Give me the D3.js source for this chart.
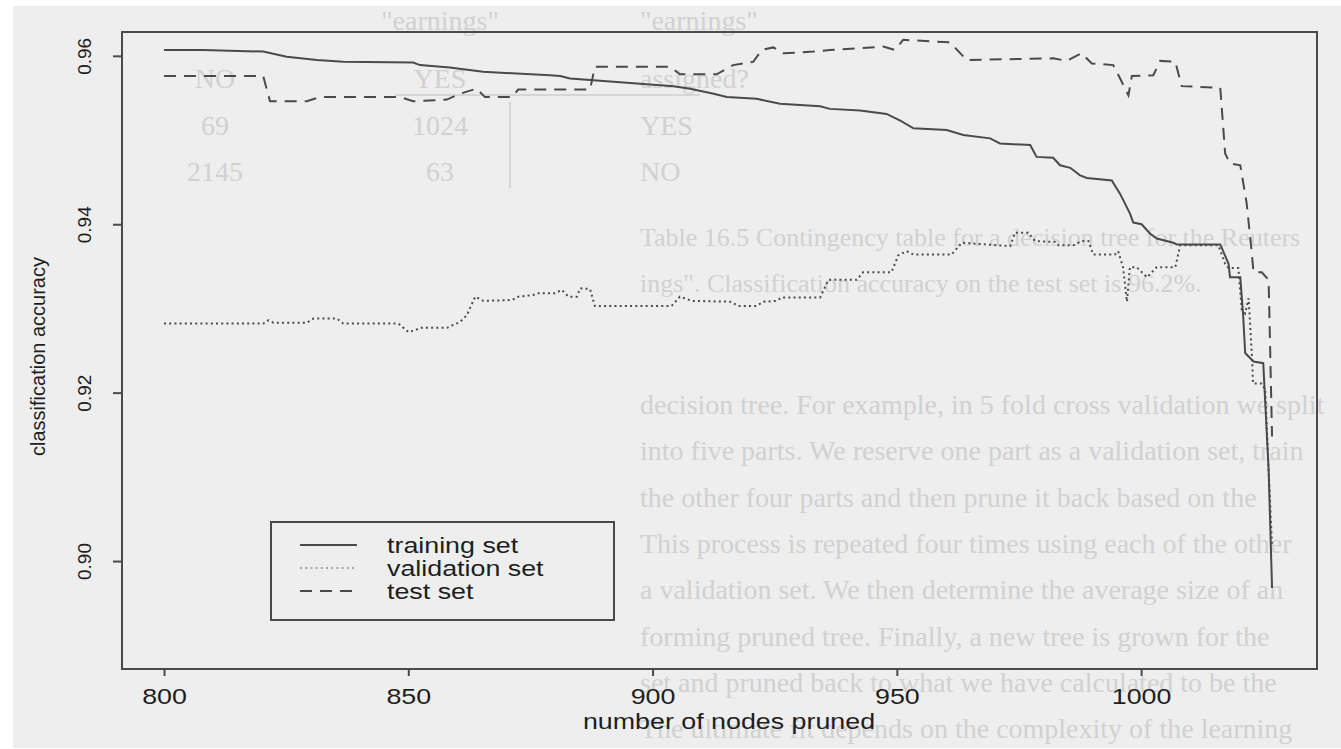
<!DOCTYPE html>
<html>
<head>
<meta charset="utf-8">
<script src="https://cdn.jsdelivr.net/npm/d3@7"></script>
<style>
body { margin: 0; background: #fff; }
svg { display: block; }
</style>
</head>
<body>
<svg id="chart" width="1341" height="749"></svg>
<script>
var xTicks = [800, 850, 900, 950, 1000];
var yTicks = [0.90, 0.92, 0.94, 0.96];
var seriesNames = ['training set', 'validation set', 'test set'];

// [nodes pruned, accuracy]
var trainingSet = [
    [800, 0.9607], [808, 0.9607], [820.3, 0.9605], [825.1, 0.9599], [831.3, 0.9595],
    [836.7, 0.9593], [851, 0.9592], [852.4, 0.9589], [858.5, 0.9586], [865.3, 0.9581],
    [872.2, 0.9579], [879, 0.9577], [881.1, 0.9576], [883.1, 0.9573], [887.9, 0.9571],
    [904.3, 0.9564], [907.7, 0.9561], [912.5, 0.9555], [915.2, 0.9551], [921.3, 0.9549],
    [926.1, 0.9543], [934.3, 0.9540], [936.3, 0.9537], [942.5, 0.9535], [947.9, 0.9531],
    [950.7, 0.9523], [953.4, 0.9514], [960.2, 0.9512], [963.6, 0.9506], [969.1, 0.9502],
    [971.1, 0.9496], [977.3, 0.9494], [978.6, 0.9480], [982, 0.9479], [983.4, 0.9470],
    [985.5, 0.9467], [987.5, 0.9458], [988.9, 0.9455], [994, 0.9452], [995.7, 0.9436],
    [997.7, 0.9413], [998.4, 0.9402], [1000.1, 0.9400], [1001.8, 0.9389], [1003.2, 0.9383],
    [1006.6, 0.9378], [1007.3, 0.9376], [1016.2, 0.9376], [1017.9, 0.9353], [1018.2, 0.9337],
    [1020.3, 0.9337], [1020.9, 0.9290], [1021.3, 0.9247], [1023, 0.9237], [1025, 0.9235],
    [1026.1, 0.9108], [1026.8, 0.8968]
];

var validationSet = [
    [800, 0.9282], [820.3, 0.9282], [821.4, 0.9286], [822.4, 0.9283], [829.2, 0.9283],
    [830.6, 0.9288], [835.4, 0.9288], [836.7, 0.9282], [848, 0.9282], [850, 0.9272],
    [851.4, 0.9274], [852.4, 0.9277], [857.9, 0.9277], [860.6, 0.9284], [862, 0.9292],
    [862.6, 0.9300], [863.7, 0.9314], [865.4, 0.9309], [871.2, 0.9310], [872.5, 0.9314],
    [875.6, 0.9316], [876.3, 0.9318], [880, 0.9318], [881.4, 0.9322], [882.8, 0.9314],
    [884.5, 0.9314], [885.2, 0.9324], [887.2, 0.9323], [888.2, 0.9303], [903.9, 0.9303],
    [905.6, 0.9314], [908, 0.9309], [915.9, 0.9308], [917.6, 0.9303], [921.3, 0.9303],
    [922.7, 0.9308], [925.4, 0.9309], [926.4, 0.9313], [934.3, 0.9313], [936, 0.9334],
    [941.8, 0.9334], [943.1, 0.9343], [948.9, 0.9343], [950.3, 0.9363], [952, 0.9368],
    [953.4, 0.9364], [961.2, 0.9364], [963.3, 0.9378], [973.2, 0.9374], [974.2, 0.9390],
    [976.9, 0.9390], [978.3, 0.9380], [982.4, 0.9379], [983.1, 0.9375], [986.1, 0.9375],
    [987.8, 0.9380], [989.2, 0.9380], [990.2, 0.9364], [994.6, 0.9364], [995.3, 0.9368],
    [996.3, 0.9349], [997.1, 0.9308], [997.7, 0.9349], [999.1, 0.9349], [1001.2, 0.9337],
    [1003.2, 0.9349], [1007, 0.9349], [1008, 0.9375], [1015.8, 0.9375], [1017.2, 0.9353],
    [1017.9, 0.9348], [1019.9, 0.9348], [1020.6, 0.9298], [1021.3, 0.9294], [1022, 0.9312],
    [1022.7, 0.9242], [1022.9, 0.9211], [1024.7, 0.9211], [1025.4, 0.9203], [1026.1, 0.9108],
    [1026.8, 0.9017]
];

var testSet = [
    [800, 0.9576], [820.3, 0.9576], [821.7, 0.9546], [829.2, 0.9546], [831.9, 0.9551],
    [848.3, 0.9551], [851, 0.9546], [857.9, 0.9548], [860.6, 0.9555], [864, 0.9561],
    [865.7, 0.9551], [871.2, 0.9551], [872.5, 0.9560], [887.2, 0.9560], [888.2, 0.9587],
    [903.6, 0.9587], [905.6, 0.9578], [913.1, 0.9578], [916.5, 0.9589], [920.6, 0.9593],
    [922.4, 0.9607], [924.7, 0.9610], [926.8, 0.9603], [932.9, 0.9605], [936.3, 0.9607],
    [942.5, 0.9609], [947.2, 0.9611], [949.6, 0.9607], [951.3, 0.9619], [960.9, 0.9616],
    [964.3, 0.9595], [982, 0.9597], [984.8, 0.9594], [987.8, 0.9603], [989.9, 0.9591],
    [994.3, 0.9589], [995.7, 0.9573], [997.4, 0.9553], [998.1, 0.9576], [1002.5, 0.9577],
    [1003.9, 0.9594], [1007, 0.9593], [1008.3, 0.9564], [1016.2, 0.9562], [1017.2, 0.9484],
    [1018.2, 0.9472], [1020.3, 0.9470], [1021.6, 0.9425], [1022.6, 0.9369], [1023, 0.9343],
    [1024.7, 0.9343], [1026.1, 0.9334], [1026.8, 0.9148]
];

// faint show-through text from the other side of the scanned page
var ghostTable = [
    ['', '"earnings"', '"earnings"'],
    ['NO', 'YES', 'assigned?'],
    ['69', '1024', 'YES'],
    ['2145', '63', 'NO']
];
var ghostCaption = [
    'Table 16.5   Contingency table for a decision tree for the Reuters category',
    'ings". Classification accuracy on the test set is 96.2%.'
];
var ghostBody = [
    'decision tree.  For example, in 5 fold cross validation we split the',
    'into five parts. We reserve one part as a validation set, train on',
    'the other four parts and then prune it back based on the held-out',
    'This process is repeated four times using each of the other four parts as',
    'a validation set. We then determine the average size of an optimal',
    'forming pruned tree. Finally, a new tree is grown for the entire',
    'set and pruned back to what we have calculated to be the optimal',
    'The ultimate fit depends on the complexity of the learning device and'
];

var svg = d3.select('#chart');
var box = { left: 122, top: 32, right: 1317, bottom: 669 };
var ink = '#4a4a4a';
var stretch = 'scale(1.22,1)';

var x = d3.scaleLinear().domain([791.4, 1036]).range([box.left, box.right]);
var y = d3.scaleLinear().domain([0.88718, 0.96283]).range([box.bottom, box.top]);

// paper
svg.append('rect').attr('width', 1341).attr('height', 749).attr('fill', '#fff');
svg.append('rect').attr('x', 13).attr('y', 6).attr('width', 1328).attr('height', 742).attr('fill', '#eeeeee');

var ghost = svg.append('g')
    .attr('fill', '#d1d1d1')
    .style('font-family', '"Liberation Serif", serif')
    .style('font-size', '28px');

// drop trailing words so a ghost line stays inside the page
function fitLine(sel, maxRight) {
    var words = sel.text().split(' ');
    var left = +sel.attr('x');
    while (words.length > 1 && left + sel.node().getComputedTextLength() > maxRight) {
        words.pop();
        sel.text(words.join(' '));
    }
}

var colX = [215, 440, 640];
var rowY = [30, 88, 135, 181];
ghostTable.forEach(function (row, i) {
    row.forEach(function (cell, j) {
        ghost.append('text')
            .attr('x', colX[j])
            .attr('y', rowY[i])
            .attr('text-anchor', j == 2 ? 'start' : 'middle')
            .text(cell);
    });
});
ghost.append('line').attr('x1', 395).attr('x2', 700).attr('y1', 95).attr('y2', 95)
    .attr('stroke', '#d6d6d6').attr('stroke-width', 2);
ghost.append('line').attr('x1', 510).attr('x2', 510).attr('y1', 102).attr('y2', 188)
    .attr('stroke', '#d6d6d6').attr('stroke-width', 2);

ghostCaption.forEach(function (t, i) {
    var tx = ghost.append('text').attr('x', 640).attr('y', 246 + i * 46)
        .style('font-size', '26px').text(t);
    fitLine(tx, 1334);
});
ghostBody.forEach(function (t, i) {
    var tx = ghost.append('text').attr('x', 640).attr('y', 414 + i * 46.3).text(t);
    fitLine(tx, 1334);
});

// plot frame
svg.append('rect')
    .attr('x', box.left).attr('y', box.top)
    .attr('width', box.right - box.left).attr('height', box.bottom - box.top)
    .attr('fill', 'none').attr('stroke', ink).attr('stroke-width', 2);

// x axis
var gx = svg.append('g')
    .attr('transform', 'translate(0,' + box.bottom + ')')
    .call(d3.axisBottom(x).tickValues(xTicks).tickSize(7).tickPadding(12).tickFormat(d3.format('d')));
gx.select('.domain').remove();
gx.selectAll('line').attr('stroke', ink).attr('stroke-width', 2);
gx.selectAll('text')
    .attr('fill', '#1e1e1e')
    .attr('transform', stretch)
    .style('font-family', '"Liberation Sans", Arial, sans-serif')
    .style('font-size', '22px');

// y axis
var gy = svg.append('g')
    .attr('transform', 'translate(' + box.left + ',0)')
    .call(d3.axisLeft(y).tickValues(yTicks).tickSize(9).tickFormat(d3.format('.2f')));
gy.select('.domain').remove();
gy.selectAll('line').attr('stroke', ink).attr('stroke-width', 2);
gy.selectAll('text')
    .attr('x', 0).attr('dy', 0)
    .attr('text-anchor', 'middle')
    .attr('transform', 'translate(-31,0) rotate(-90)')
    .attr('fill', '#1e1e1e')
    .style('font-family', '"Liberation Sans", Arial, sans-serif')
    .style('font-size', '19px');

// axis titles
svg.append('text')
    .attr('transform', 'translate(729,729) ' + stretch)
    .attr('text-anchor', 'middle')
    .attr('fill', '#1e1e1e')
    .style('font-family', '"Liberation Sans", Arial, sans-serif')
    .style('font-size', '22px')
    .text('number of nodes pruned');

svg.append('text')
    .attr('transform', 'translate(45,' + ((box.top + box.bottom) / 2 + 6) + ') rotate(-90)')
    .attr('text-anchor', 'middle')
    .attr('fill', '#1e1e1e')
    .style('font-family', '"Liberation Sans", Arial, sans-serif')
    .style('font-size', '20px')
    .text('classification accuracy');

// series
var styles = [
    { data: trainingSet, dash: null, width: 2 },
    { data: validationSet, dash: '2,3.2', width: 2 },
    { data: testSet, dash: '12,8', width: 2 }
];

var line = d3.line()
    .x(function (d) { return x(d[0]); })
    .y(function (d) { return y(d[1]); });

svg.selectAll('.series')
    .data(styles)
    .enter().append('path')
    .attr('class', 'series')
    .attr('d', function (d) { return line(d.data); })
    .attr('fill', 'none')
    .attr('stroke', ink)
    .attr('stroke-width', function (d) { return d.width; })
    .attr('stroke-dasharray', function (d) { return d.dash; });

// legend
var legend = svg.append('g');
legend.append('rect')
    .attr('x', 271).attr('y', 522).attr('width', 343).attr('height', 98)
    .attr('fill', 'none').attr('stroke', ink).attr('stroke-width', 2);

seriesNames.forEach(function (name, i) {
    var ly = 545 + i * 23;
    legend.append('line')
        .attr('x1', 300).attr('x2', 357).attr('y1', ly).attr('y2', ly)
        .attr('stroke', i == 1 ? '#8a8a8a' : ink)
        .attr('stroke-width', i == 1 ? 1.5 : 1.8)
        .attr('stroke-dasharray', styles[i].dash);
    legend.append('text')
        .attr('transform', 'translate(387,' + (ly + 8) + ') ' + stretch)
        .attr('fill', '#1e1e1e')
        .style('font-family', '"Liberation Sans", Arial, sans-serif')
        .style('font-size', '22px')
        .text(name);
});
</script>
</body>
</html>
